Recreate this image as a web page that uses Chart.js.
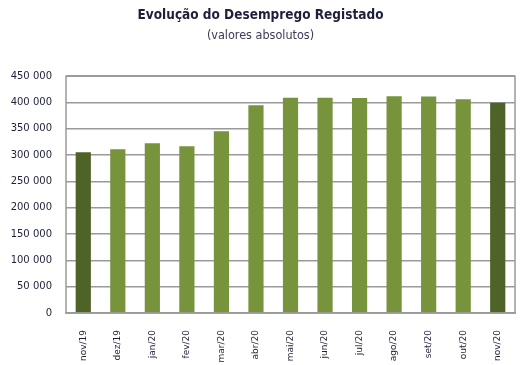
<!DOCTYPE html>
<html lang="pt">
  <head>
    <meta charset="UTF-8" />
    <script src="https://cdn.jsdelivr.net/npm/chart.js@4.4.0/dist/chart.umd.min.js"></script>
    <title>Evolução do Desemprego Registado</title>
    <style>
      body { margin: 0; background: #fff; }
    </style>
  </head>
  <body>
    <canvas id="myChart" width="529" height="365"></canvas>
    <script>
      const meses = ["nov/19", "dez/19", "jan/20", "fev/20", "mar/20", "abr/20", "mai/20",
        "jun/20", "jul/20", "ago/20", "set/20", "out/20", "nov/20"];
      const desempregados = [305700, 311400, 322700, 317100, 345400, 394600, 409000,
        408900, 408600, 412000, 411600, 406000, 399500];
      const destaque = [true, false, false, false, false, false, false,
        false, false, false, false, false, true];
      const yTicks = [0, 50000, 100000, 150000, 200000, 250000, 300000, 350000, 400000, 450000];

      const claro = "#77933c";
      const escuro = "#4f6228";

      // moldura à volta da área do gráfico
      const moldura = {
        id: "moldura",
        afterDraw(chart) {
          const a = chart.chartArea;
          const ctx = chart.ctx;
          ctx.save();
          ctx.strokeStyle = "#9a9a9a";
          ctx.lineWidth = 1.5;
          ctx.strokeRect(a.left, a.top, a.right - a.left, a.bottom - a.top);
          ctx.restore();
        },
      };

      const fmt = (v) => v.toString().replace(/\B(?=(\d{3})+(?!\d))/g, " ");

      new Chart(document.getElementById("myChart").getContext("2d"), {
        type: "bar",
        data: {
          labels: meses,
          datasets: [
            {
              data: desempregados,
              backgroundColor: destaque.map((d) => (d ? escuro : claro)),
              borderWidth: 0,
              categoryPercentage: 1,
              barPercentage: 0.44,
            },
          ],
        },
        options: {
          responsive: false,
          animation: false,
          layout: { padding: { left: 6, right: 14, top: 0, bottom: 2 } },
          plugins: {
            legend: { display: false },
            tooltip: { enabled: false },
            title: {
              display: true,
              text: "Evolução do Desemprego Registado",
              color: "#1f1f3a",
              font: { family: "'Liberation Sans Narrow', 'DejaVu Sans Condensed', sans-serif", size: 13.5, weight: "bold" },
              padding: { top: 7, bottom: 5 },
            },
            subtitle: {
              display: true,
              text: "(valores absolutos)",
              color: "#3a3a55",
              font: { family: "'Liberation Sans Narrow', 'DejaVu Sans Condensed', sans-serif", size: 12.5 },
              padding: { top: 0, bottom: 33 },
            },
          },
          scales: {
            x: {
              afterFit: (axis) => {
                axis.height = 50;
              },
              grid: { display: false },
              border: { color: "#9a9a9a", width: 1.5 },
              ticks: {
                color: "#1f1f3a",
                font: { family: "'DejaVu Sans', sans-serif", size: 9 },
                minRotation: 90,
                maxRotation: 90,
                padding: 9,
              },
            },
            y: {
              min: 0,
              max: 450000,
              afterBuildTicks: (axis) => {
                axis.ticks = yTicks.map((v) => ({ value: v }));
              },
              afterFit: (axis) => {
                axis.width = 60;
              },
              grid: { color: "#9a9a9a", lineWidth: 1.5, drawTicks: false },
              border: { display: false },
              ticks: {
                color: "#1f1f3a",
                font: { family: "'DejaVu Sans', sans-serif", size: 10 },
                padding: 14,
                callback: (v) => fmt(v),
              },
            },
          },
        },
        plugins: [moldura],
      });
    </script>
  </body>
</html>
